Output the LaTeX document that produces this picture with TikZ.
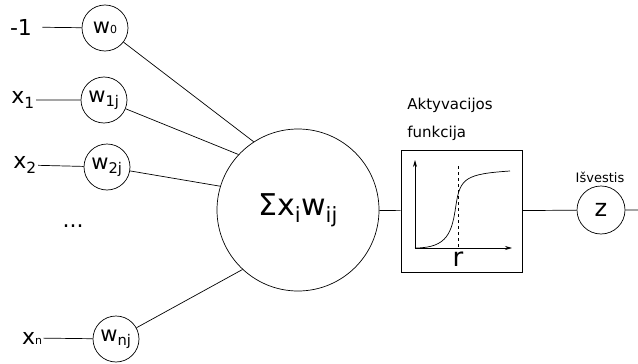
\documentclass[tikz,border=0pt]{standalone}
\usepackage{fontspec}
\usetikzlibrary{arrows.meta}
\setmainfont{DejaVu Sans}
\newcommand{\fsz}[1]{\fontsize{#1}{#1}\selectfont}
\begin{document}
\begin{tikzpicture}[x=1pt,y=-1pt,line width=0.7pt,
    input/.style={inner sep=1pt,font=\fsz{22}},
    weight/.style={draw,circle,minimum size=46pt,inner sep=0pt,font=\fsz{21}},
    label/.style={inner sep=0pt,font=\fsz{15}}]
    \useasboundingbox (0,0) rectangle (638,364);

    \node [input,inner xsep=10pt] (in0) at (21,27) {-1};
    \node [input] (in1) at (23,100) {x\textsubscript{1}};
    \node [input] (in2) at (25,165) {x\textsubscript{2}};
    \node [input] (inn) at (32,338) {x{\fsz{11}n}};
    \node [input] at (73,226) {...};

    \node [weight] (w0) at (105,28) {w{\fsz{11}0}};
    \node [weight] (w1) at (104,100) {w\textsubscript{1j}};
    \node [weight] (w2) at (107,167) {w\textsubscript{2j}};
    \node [weight] (wn) at (116,339) {w\textsubscript{nj}};

    \node [draw,circle,minimum size=162pt,font=\fsz{30}]
        (sum) at (298,210) {Σx\textsubscript{i}w\textsubscript{ij}};

    \node [draw,minimum width=121pt,minimum height=122pt,inner sep=0pt]
        (act) at (461.5,211) {};
    \node [label,anchor=west] at (407,105) {Aktyvacijos};
    \node [label,anchor=west] at (407,133) {funkcija};

    \node [weight,minimum size=48pt,font=\fsz{24}] (out) at (601,210) {z};
    \node [label,font=\fsz{13}] at (600,177) {Išvestis};
    \coordinate (end) at (638,210);

    \draw
        (in0) -- (w0)
        (in1) -- (w1)
        (in2) -- (w2)
        (inn) -- (wn)
        ;

    \draw
        (w0) -- (sum.123)
        (w1) -- (sum.137)
        (w2) -- (sum.163)
        (wn) -- (sum.227)
        ;

    \draw
        (sum) -- (act)
        (act) -- (out)
        (out) -- (end)
        ;

    \coordinate (orig) at (415,248);
    \draw [-{Stealth[length=7pt,width=4pt]}] (orig) -- (415,160);
    \draw [-{Stealth[length=7pt,width=4pt]}] (orig) -- (512,248);
    \draw [dashed] (458,166) -- (458,248);
    \draw
        (orig) .. controls (448,248) and (452,232) .. (456,205)
        .. controls (460,178) and (466,174) .. (510,171)
        ;
    \node [inner sep=0pt,font=\fsz{26}] at (458,259) {r};
\end{tikzpicture}
\end{document}
